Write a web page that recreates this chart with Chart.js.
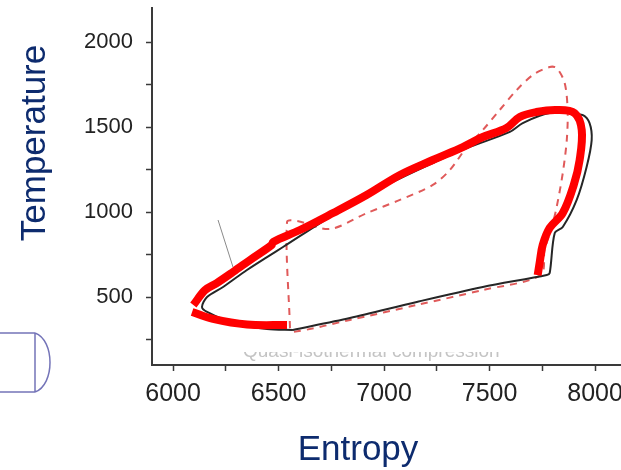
<!DOCTYPE html>
<html>
<head>
<meta charset="utf-8">
<script src="https://cdn.jsdelivr.net/npm/chart.js@4.4.1/dist/chart.umd.min.js"></script>
<style>
  html, body { margin: 0; padding: 0; background: #fff; }
  #wrap { width: 621px; height: 470px; position: relative; }
</style>
</head>
<body>
<div id="wrap"><canvas id="ts"></canvas></div>
<script>
// Entropy (x) / Temperature (y)

// thick red trace, upper path (left tip -> top -> down the right side)
const redUpperS = [6096, 6152, 6207, 6284, 6365, 6467, 6474, 6601, 6758, 6917, 7075, 7231, 7373, 7468, 7580, 7643, 7722, 7817, 7903, 7937, 7927, 7899, 7847, 7785, 7752, 7738, 7728]
const redUpperT = [453, 541, 582, 647, 718, 806, 824, 894, 994, 1100, 1218, 1306, 1382, 1441, 1494, 1559, 1588, 1600, 1582, 1482, 1306, 1159, 994, 906, 806, 706, 629]

// thick red trace, lower-left piece
const redLowerS = [6090, 6189, 6350, 6540]
const redLowerT = [412, 371, 338, 335]

// thin black cycle (closed)
const blackS = [6568, 6838, 7155, 7468, 7771, 7785, 7809, 7847, 7913, 7960, 7984, 7974, 7941, 7785, 7657, 7596, 7392, 7231, 6994, 6758, 6521, 6445, 6350, 6237, 6161, 6137, 6161, 6284, 6445, 6568]
const blackT = [306, 376, 471, 559, 629, 641, 876, 912, 1071, 1265, 1423, 1523, 1571, 1582, 1523, 1471, 1376, 1288, 1147, 982, 794, 735, 659, 559, 500, 441, 412, 347, 312, 306]

// dashed red cycle (closed)
const dashS = [6554, 6540, 6587, 6743, 6919, 7075, 7231, 7312, 7392, 7468, 7548, 7629, 7705, 7785, 7818, 7856, 7870, 7866, 7847, 7818, 7795, 7761, 7742, 7468, 7155, 6838, 6568, 6554]
const dashT = [318, 941, 947, 900, 994, 1071, 1159, 1247, 1382, 1482, 1600, 1718, 1806, 1853, 1847, 1759, 1600, 1423, 1229, 1029, 912, 776, 629, 541, 453, 365, 294, 318]

// little pointer line left over from the original figure
const arrowS = [6213, 6284]
const arrowT = [953, 676]

// tick marks (every 250) and the ones that carry a label
const xTickMarks = [6000, 6250, 6500, 6750, 7000, 7250, 7500, 7750, 8000]
const xTicks = [6000, 6500, 7000, 7500, 8000]
const yTickMarks = [250, 500, 750, 1000, 1250, 1500, 1750, 2000]
const yTicks = [500, 1000, 1500, 2000]

const pts = (s, t) => s.map((v, i) => ({ x: v, y: t[i] }))

const NAVY = '#0d2b6e'
const AXIS = '#3a3a3a'
const FONT = '"Liberation Sans", Arial, sans-serif'

// hand-placed leftovers: axis titles, faded caption, slide shape
const decor = {
  id: 'decor',
  afterDraw(chart) {
    const c = chart.ctx
    c.save()
    c.fillStyle = NAVY
    c.font = '35px ' + FONT
    c.textAlign = 'center'
    c.textBaseline = 'alphabetic'
    c.fillText('Entropy', 358, 460)
    c.translate(45, 143)
    c.rotate(-Math.PI / 2)
    c.fillText('Temperature', 0, 0)
    c.restore()

    // faded caption, only its lower part shows above the axis
    c.save()
    c.beginPath()
    c.rect(230, 352, 300, 11)
    c.clip()
    c.fillStyle = '#c4c4c4'
    c.font = '19px ' + FONT
    c.textAlign = 'left'
    c.fillText('Quasi-isothermal compression', 243, 357)
    c.restore()

    // purple rounded tab at the left edge
    c.save()
    c.strokeStyle = '#7474b8'
    c.lineWidth = 1.5
    c.beginPath()
    c.moveTo(0, 333); c.lineTo(35, 333)
    c.moveTo(0, 392); c.lineTo(35, 392)
    c.moveTo(35, 333); c.lineTo(35, 392)
    c.moveTo(35, 333)
    c.bezierCurveTo(55, 340, 55, 385, 35, 392)
    c.stroke()
    c.restore()
  }
}

new Chart(document.getElementById('ts'), {
  type: 'line',
  data: {
    datasets: [
      { data: pts(redUpperS, redUpperT), borderColor: '#ff0000', borderWidth: 8, tension: 0.35, order: 0, borderCapStyle: 'butt' },
      { data: pts(redLowerS, redLowerT), borderColor: '#ff0000', borderWidth: 8, tension: 0.35, order: 0, borderCapStyle: 'butt' },
      { data: pts(blackS, blackT), borderColor: '#262626', borderWidth: 2, tension: 0.3, order: 1 },
      { data: pts(dashS, dashT), borderColor: '#e05a5a', borderWidth: 2, borderDash: [7, 6], tension: 0.3, order: 2 },
      { data: pts(arrowS, arrowT), borderColor: '#8a8a8a', borderWidth: 1, tension: 0, order: 3 }
    ]
  },
  options: {
    responsive: true,
    maintainAspectRatio: false,
    animation: false,
    layout: { padding: { top: 8, right: 0, bottom: 0, left: 0 } },
    elements: { point: { radius: 0 } },
    plugins: { legend: { display: false }, tooltip: { enabled: false } },
    scales: {
      x: {
        type: 'linear', min: 5900, max: 8123,
        afterBuildTicks: s => { s.ticks = xTickMarks.map(v => ({ value: v })) },
        afterFit: s => { s.height = 105; s.paddingLeft = 0; s.paddingRight = 0 },
        border: { display: true, color: AXIS, width: 2 },
        grid: { display: true, drawOnChartArea: false, tickLength: 6, tickWidth: 1.5, tickColor: AXIS },
        ticks: {
          autoSkip: false, maxRotation: 0, minRotation: 0, padding: 8, color: '#222',
          font: { family: FONT, size: 25 },
          callback: v => xTicks.includes(v) ? String(v) : ''
        }
      },
      y: {
        type: 'linear', min: 100, max: 2200,
        afterBuildTicks: s => { s.ticks = yTickMarks.map(v => ({ value: v })) },
        afterFit: s => { s.width = 152; s.paddingTop = 0; s.paddingBottom = 0 },
        border: { display: true, color: AXIS, width: 2 },
        grid: { display: true, drawOnChartArea: false, tickLength: 6, tickWidth: 1.5, tickColor: AXIS },
        ticks: {
          autoSkip: false, padding: 13, color: '#222',
          font: { family: FONT, size: 22 },
          callback: v => yTicks.includes(v) ? String(v) : ''
        }
      }
    }
  },
  plugins: [decor]
})
</script>
</body>
</html>
